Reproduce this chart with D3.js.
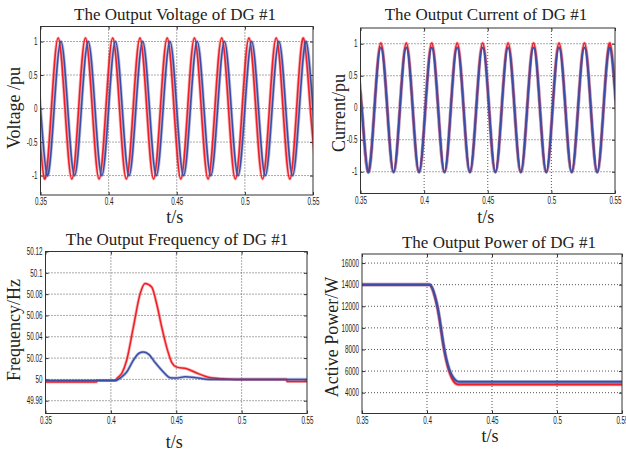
<!DOCTYPE html>
<html>
<head>
<meta charset="utf-8">
<script src="https://cdn.jsdelivr.net/npm/d3@7"></script>
<style>
  body { margin: 0; background: #fff; }
  svg { display: block; }
  .tick text { font-family: "Liberation Sans", Arial, sans-serif; font-size: 10px; fill: #222; }
  .tick line { stroke: #333; }
  .grid line { stroke: #555; stroke-dasharray: 1, 2; }
  .ttl, .lbl { font-family: "Liberation Serif", serif; fill: #222; }
</style>
</head>
<body>
<svg width="626" height="451"></svg>
<script>
// ---- shared x axis ----
const xTicks = [0.35, 0.4, 0.45, 0.5, 0.55];
const xTickLabels = ['0.35', '0.4', '0.45', '0.5', '0.55'];

// ---- voltage (peaks / zero crossings / troughs) ----
const voltRedT = [0.343, 0.348, 0.353, 0.358, 0.363, 0.368, 0.373, 0.378, 0.383, 0.388, 0.393,
  0.398, 0.403, 0.408, 0.413, 0.418, 0.423, 0.428, 0.433, 0.438, 0.443, 0.448, 0.453, 0.458,
  0.463, 0.468, 0.473, 0.478, 0.483, 0.488, 0.493, 0.498, 0.503, 0.508, 0.513, 0.518, 0.523,
  0.528, 0.533, 0.538, 0.543, 0.548, 0.553];
const voltRedV = [1.05, 0, -1.05, 0, 1.05, 0, -1.05, 0, 1.05, 0, -1.05, 0, 1.05, 0, -1.05, 0,
  1.05, 0, -1.05, 0, 1.05, 0, -1.05, 0, 1.05, 0, -1.05, 0, 1.05, 0, -1.05, 0, 1.05, 0, -1.05, 0,
  1.05, 0, -1.05, 0, 1.05, 0, -1.05];
const voltBlueT = [0.345, 0.350, 0.355, 0.360, 0.365, 0.370, 0.375, 0.380, 0.385, 0.390, 0.395,
  0.400, 0.405, 0.410, 0.415, 0.420, 0.425, 0.430, 0.435, 0.440, 0.445, 0.450, 0.455, 0.460,
  0.465, 0.470, 0.475, 0.480, 0.485, 0.490, 0.495, 0.500, 0.505, 0.510, 0.515, 0.520, 0.525,
  0.530, 0.535, 0.540, 0.545, 0.550, 0.555];
const voltBlueV = [1, 0, -1, 0, 1, 0, -1, 0, 1, 0, -1, 0, 1, 0, -1, 0, 1, 0, -1, 0, 1, 0, -1, 0,
  1, 0, -1, 0, 1, 0, -1, 0, 1, 0, -1, 0, 1, 0, -1, 0, 1, 0, -1];
const voltTicks = [1, 0.5, 0, -0.5, -1];
const voltTickLabels = ['1', '0.5', '0', '-0.5', '-1'];

// ---- current ----
const currT = [0.346, 0.351, 0.356, 0.361, 0.366, 0.371, 0.376, 0.381, 0.386, 0.391, 0.396,
  0.401, 0.406, 0.411, 0.416, 0.421, 0.426, 0.431, 0.436, 0.441, 0.446, 0.451, 0.456, 0.461,
  0.466, 0.471, 0.476, 0.481, 0.486, 0.491, 0.496, 0.501, 0.506, 0.511, 0.516, 0.521, 0.526,
  0.531, 0.536, 0.541, 0.546, 0.551, 0.556];
const currRedV = [1.01, 0, -1, 0, 1.01, 0, -1, 0, 1.01, 0, -1, 0, 1.01, 0, -1, 0, 1.01, 0, -1, 0,
  1.01, 0, -1, 0, 1.01, 0, -1, 0, 1.01, 0, -1, 0, 1.01, 0, -1, 0, 1.01, 0, -1, 0, 1.01, 0, -1];
const currBlueV = [0.94, 0, -1.01, 0, 0.94, 0, -1.01, 0, 0.94, 0, -1.01, 0, 0.94, 0, -1.01, 0,
  0.94, 0, -1.01, 0, 0.94, 0, -1.01, 0, 0.94, 0, -1.01, 0, 0.94, 0, -1.01, 0, 0.94, 0, -1.01, 0,
  0.94, 0, -1.01, 0, 0.94, 0, -1.01];
const currTicks = [1, 0.5, 0, -0.5, -1];
const currTickLabels = ['1', '0.5', '0', '-0.5', '-1'];

// ---- frequency ----
const freqRedT = [0.35, 0.389, 0.3892, 0.4035, 0.4045, 0.4085, 0.4121, 0.4172, 0.4223, 0.4261,
  0.4312, 0.435, 0.4389, 0.4427, 0.4465, 0.4503, 0.458, 0.4656, 0.472, 0.478, 0.486, 0.495,
  0.5343, 0.5347, 0.55];
const freqRedV = [49.9975, 49.9975, 49.999, 49.999, 50.0007, 50.006, 50.018, 50.049, 50.080,
  50.090, 50.0867, 50.071, 50.049, 50.030, 50.016, 50.0115, 50.010, 50.006, 50.003, 50.0012,
  50.0005, 50.0, 50.0, 49.998, 49.998];
const freqBlueT = [0.35, 0.4035, 0.408, 0.4121, 0.4172, 0.4215, 0.4248, 0.429, 0.4337, 0.4401,
  0.4452, 0.4503, 0.4567, 0.4656, 0.475, 0.55];
const freqBlueV = [49.999, 49.999, 50.002, 50.0069, 50.018, 50.0245, 50.0256, 50.0235, 50.016,
  50.007, 50.0016, 50.0013, 50.0025, 50.0016, 50.0, 50.0];
const freqTicks = [50.12, 50.1, 50.08, 50.06, 50.04, 50.02, 50, 49.98];
const freqTickLabels = ['50.12', '50.1', '50.08', '50.06', '50.04', '50.02', '50', '49.98'];

// ---- active power ----
const powT = [0.35, 0.402, 0.404, 0.406, 0.408, 0.4095, 0.411, 0.4125, 0.414, 0.416, 0.418,
  0.420, 0.422, 0.424, 0.426, 0.55];
const powRedV = [14000, 14000, 13650, 12900, 11900, 10850, 9650, 8450, 7450, 6400, 5650, 5150,
  4850, 4760, 4750, 4750];
const powBlueV = [14000, 14000, 13700, 13000, 12000, 11000, 9800, 8600, 7600, 6600, 5900, 5450,
  5150, 5020, 5000, 5000];
const powTicks = [16000, 14000, 12000, 10000, 8000, 6000, 4000];
const powTickLabels = ['16000', '14000', '12000', '10000', '8000', '6000', '4000'];

const RED = '#ee1f26';
const BLUE = '#3b4ea6';
const NARROW = 0.63; // tick labels in the original are a condensed face

const svg = d3.select('svg');
const zip = (ts, vs) => ts.map((t, i) => [t, vs[i]]);

function panel(o) {
  const w = o.x1 - o.x0, h = o.y1 - o.y0;
  const x = d3.scaleLinear().domain([0.35, 0.55]).range([0, w]);
  const y = d3.scaleLinear().domain(o.yDomain).range([h, 0]);
  const g = svg.append('g').attr('transform', `translate(${o.x0},${o.y0})`);

  // dotted grid
  g.append('g').attr('class', 'grid')
    .selectAll('line').data(xTicks.slice(1, -1)).join('line')
    .attr('x1', d => x(d)).attr('x2', d => x(d)).attr('y1', 0).attr('y2', h);
  g.append('g').attr('class', 'grid')
    .selectAll('line').data(o.yTicks).join('line')
    .attr('y1', d => y(d)).attr('y2', d => y(d)).attr('x1', 0).attr('x2', w);

  // axes with inward ticks
  g.append('g').attr('transform', `translate(0,${h})`)
    .call(d3.axisBottom(x).tickValues(xTicks).tickFormat((d, i) => xTickLabels[i]).tickSize(-3).tickPadding(3))
    .selectAll('text').attr('transform', `scale(${NARROW},1)`);
  g.append('g')
    .call(d3.axisLeft(y).tickValues(o.yTicks).tickFormat((d, i) => o.yLabels[i]).tickSize(-3))
    .selectAll('text').attr('x', -3 / NARROW).attr('transform', `scale(${NARROW},1)`);
  g.append('g').call(d3.axisTop(x).tickValues(xTicks).tickFormat('').tickSize(-3));
  g.append('g').attr('transform', `translate(${w},0)`)
    .call(d3.axisRight(y).tickValues(o.yTicks).tickFormat('').tickSize(-3));
  g.selectAll('.domain').remove();

  // curves
  const clipId = 'clip' + o.id;
  g.append('clipPath').attr('id', clipId).append('rect').attr('width', w).attr('height', h);
  const line = d3.line().x(d => x(d[0])).y(d => y(d[1])).curve(o.curve);
  const lines = g.append('g').attr('clip-path', `url(#${clipId})`);
  o.series.forEach(s => {
    lines.append('path').datum(s.pts).attr('d', line)
      .attr('fill', 'none').attr('stroke', s.color).attr('stroke-opacity', 0.35)
      .attr('stroke-width', o.lw + 1.6).attr('stroke-linejoin', 'round');
    lines.append('path').datum(s.pts).attr('d', line)
      .attr('fill', 'none').attr('stroke', s.color)
      .attr('stroke-width', o.lw).attr('stroke-linejoin', 'round');
  });

  // box
  g.append('rect').attr('width', w).attr('height', h)
    .attr('fill', 'none').attr('stroke', '#333').attr('stroke-width', 1);

  // texts
  svg.append('text').attr('class', 'ttl').attr('x', o.title[1]).attr('y', o.title[2])
    .attr('text-anchor', 'middle').attr('font-size', 17).text(o.title[0]);
  svg.append('text').attr('class', 'lbl')
    .attr('transform', `translate(${o.ylab[1]},${o.ylab[2]}) rotate(-90)`)
    .attr('text-anchor', 'middle').attr('font-size', 18).text(o.ylab[0]);
  svg.append('text').attr('class', 'lbl').attr('x', o.x0 + w / 2 - 2).attr('y', o.xlabY)
    .attr('text-anchor', 'middle').attr('font-size', 18).text('t/s');
}

panel({
  id: 1, x0: 40.5, x1: 313, y0: 26.5, y1: 195, yDomain: [-1.29, 1.224],
  yTicks: voltTicks, yLabels: voltTickLabels, curve: d3.curveNatural, lw: 1.6,
  series: [{ pts: zip(voltRedT, voltRedV), color: RED }, { pts: zip(voltBlueT, voltBlueV), color: BLUE }],
  title: ['The Output Voltage of DG #1', 175, 20], ylab: ['Voltage /pu', 20, 108], xlabY: 223
});

panel({
  id: 2, x0: 360.5, x1: 615, y0: 28, y1: 193.5, yDomain: [-1.34, 1.246],
  yTicks: currTicks, yLabels: currTickLabels, curve: d3.curveNatural, lw: 1.8,
  series: [{ pts: zip(currT, currRedV), color: RED }, { pts: zip(currT, currBlueV), color: BLUE }],
  title: ['The Output Current of DG #1', 486, 20], ylab: ['Current/pu', 345, 113], xlabY: 223
});

panel({
  id: 3, x0: 45.5, x1: 307, y0: 251.5, y1: 413.5, yDomain: [49.968, 50.12],
  yTicks: freqTicks, yLabels: freqTickLabels, curve: d3.curveMonotoneX, lw: 1.5,
  series: [{ pts: zip(freqRedT, freqRedV), color: RED }, { pts: zip(freqBlueT, freqBlueV), color: BLUE }],
  title: ['The Output Frequency of DG #1', 177, 245], ylab: ['Frequency/Hz', 20, 330], xlabY: 448
});

panel({
  id: 4, x0: 362, x1: 622, y0: 254, y1: 413.5, yDomain: [2070, 16840],
  yTicks: powTicks, yLabels: powTickLabels, curve: d3.curveMonotoneX, lw: 2,
  series: [{ pts: zip(powT, powRedV), color: RED }, { pts: zip(powT, powBlueV), color: BLUE }],
  title: ['The Output Power of DG #1', 499, 248], ylab: ['Active Power/W', 338, 337], xlabY: 442
});
</script>
</body>
</html>
